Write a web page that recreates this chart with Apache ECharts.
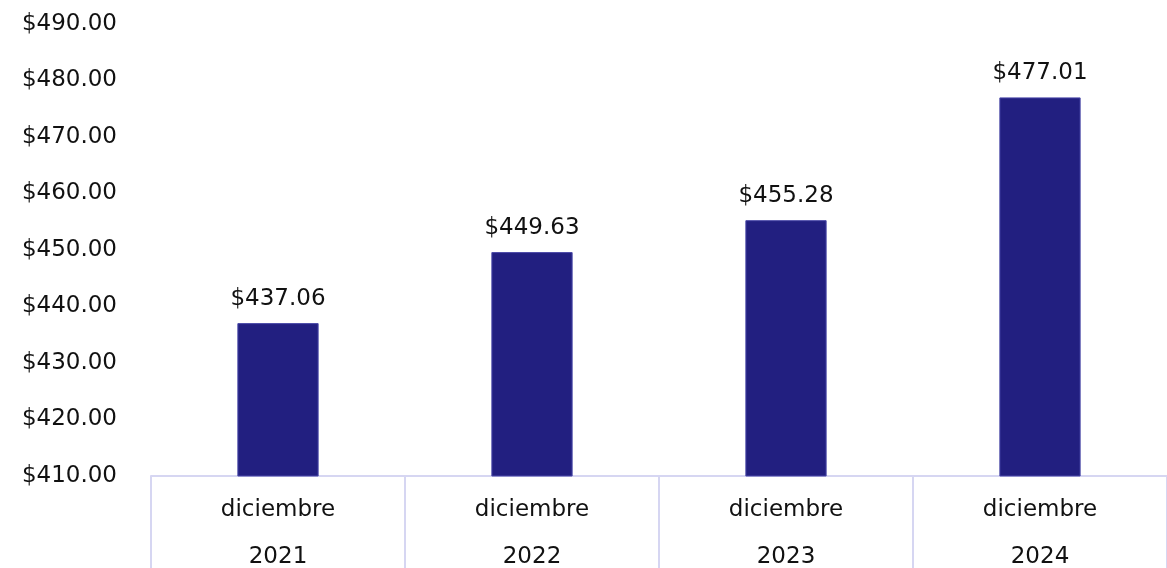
<!DOCTYPE html>
<html>
<head>
<meta charset="utf-8">
<script src="https://cdn.jsdelivr.net/npm/echarts@6/dist/echarts.min.js"></script>
<style>
html,body{margin:0;padding:0;background:#fff;overflow:hidden;}
#chart{width:1167px;height:568px;}
</style>
</head>
<body>
<div id="chart"></div>
<script>
var categories = ['diciembre\n2021', 'diciembre\n2022', 'diciembre\n2023', 'diciembre\n2024'];
var values = [437.06, 449.63, 455.28, 477.01];

var chart = echarts.init(document.getElementById('chart'));
var font = 'DejaVu Sans';
chart.setOption({
  animation: false,
  grid: {left: 151, right: 0, top: 24, bottom: 92, containLabel: false, outerBoundsMode: 'none'},
  xAxis: {
    type: 'category',
    data: categories,
    axisLine: {show: true, lineStyle: {color: '#D6D6F2', width: 2}},
    axisTick: {show: true, length: 100, lineStyle: {color: '#D6D6F2', width: 2}},
    axisLabel: {color: '#111', fontFamily: font, fontSize: 23, lineHeight: 47, margin: 11}
  },
  yAxis: {
    type: 'value',
    min: 410, max: 490, interval: 10,
    axisLine: {show: false},
    axisTick: {show: false},
    splitLine: {show: false},
    axisLabel: {
      color: '#111', fontFamily: font, fontSize: 23, margin: 34,
      formatter: function (v) { return '$' + v.toFixed(2); }
    }
  },
  series: [{
    type: 'bar',
    data: values,
    barWidth: '32%',
    itemStyle: {color: '#221F80', borderColor: '#4A48A8', borderWidth: 1},
    label: {
      show: true, position: 'top', distance: 13,
      color: '#111', fontFamily: font, fontSize: 23,
      formatter: function (p) { return '$' + p.value.toFixed(2); }
    }
  }]
});
</script>
</body>
</html>
